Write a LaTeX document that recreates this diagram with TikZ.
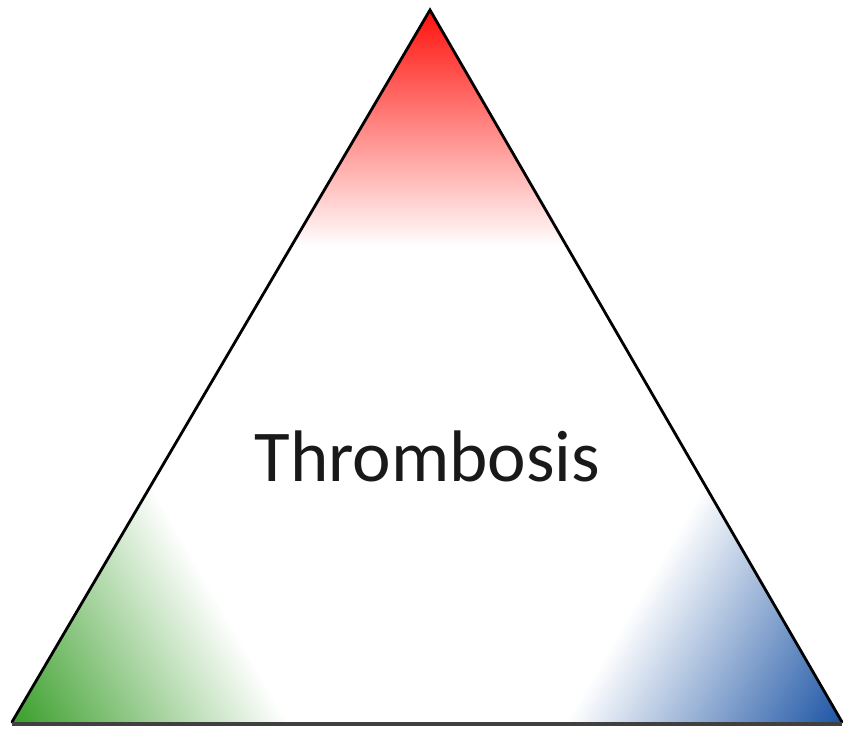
\documentclass[tikz,border=0pt]{standalone}
\usepackage{fontspec}
\setmainfont{Carlito}
\usetikzlibrary{calc}
\definecolor{apexred}{RGB}{255,18,12}
\definecolor{midred}{RGB}{255,118,88}
\definecolor{cornergreen}{RGB}{58,158,42}
\definecolor{midgreen}{RGB}{140,202,112}
\definecolor{cornerblue}{RGB}{28,84,164}
\definecolor{midblue}{RGB}{128,156,204}
\definecolor{basegray}{RGB}{64,64,64}
\tikzset{
  sideedge/.style={draw=black, line width=2.8pt, line cap=round, line join=miter},
  baseedge/.style={draw=basegray, line width=4.5pt},
  titletext/.style={anchor=base, inner sep=0pt, font=\fontsize{73}{80}\selectfont},
  every node/.style={text=black!90}
}
\begin{document}
\begin{tikzpicture}[x=1pt, y=1pt]
    \useasboundingbox (0,0) rectangle (844,733);
    \coordinate (apex) at (430,723);
    \coordinate (left) at (12,11);
    \coordinate (right) at (842,11);

    % corner fades, each over a third of the altitude
    \shade[top color=apexred, middle color=midred, bottom color=white]
      (apex) -- ($(apex)!0.3333!(left)$) -- ($(apex)!0.3333!(right)$) -- cycle;
    \begin{scope}
      \clip (left) -- ($(left)!0.3333!(apex)$) -- ($(left)!0.3333!(right)$) -- cycle;
      \begin{scope}[transform canvas={rotate around={120.06:(left)}}]
        \shade[top color=cornergreen, middle color=midgreen, bottom color=white]
          ([shift={(-500,-239.3)}]left) rectangle ([shift={(500,0)}]left);
      \end{scope}
    \end{scope}
    \begin{scope}
      \clip (right) -- ($(right)!0.3333!(apex)$) -- ($(right)!0.3333!(left)$) -- cycle;
      \begin{scope}[transform canvas={rotate around={-120.4:(right)}}]
        \shade[top color=cornerblue, middle color=midblue, bottom color=white]
          ([shift={(-500,-238.6)}]right) rectangle ([shift={(500,0)}]right);
      \end{scope}
    \end{scope}

    % outline
    \draw[sideedge] (left) -- (apex) -- (right);
    \draw[baseedge] ([yshift=-2pt]left) -- ([yshift=-2pt]right);

    \node[titletext] (title) at (427.5,251) {Thrombosis};
\end{tikzpicture}
\end{document}
